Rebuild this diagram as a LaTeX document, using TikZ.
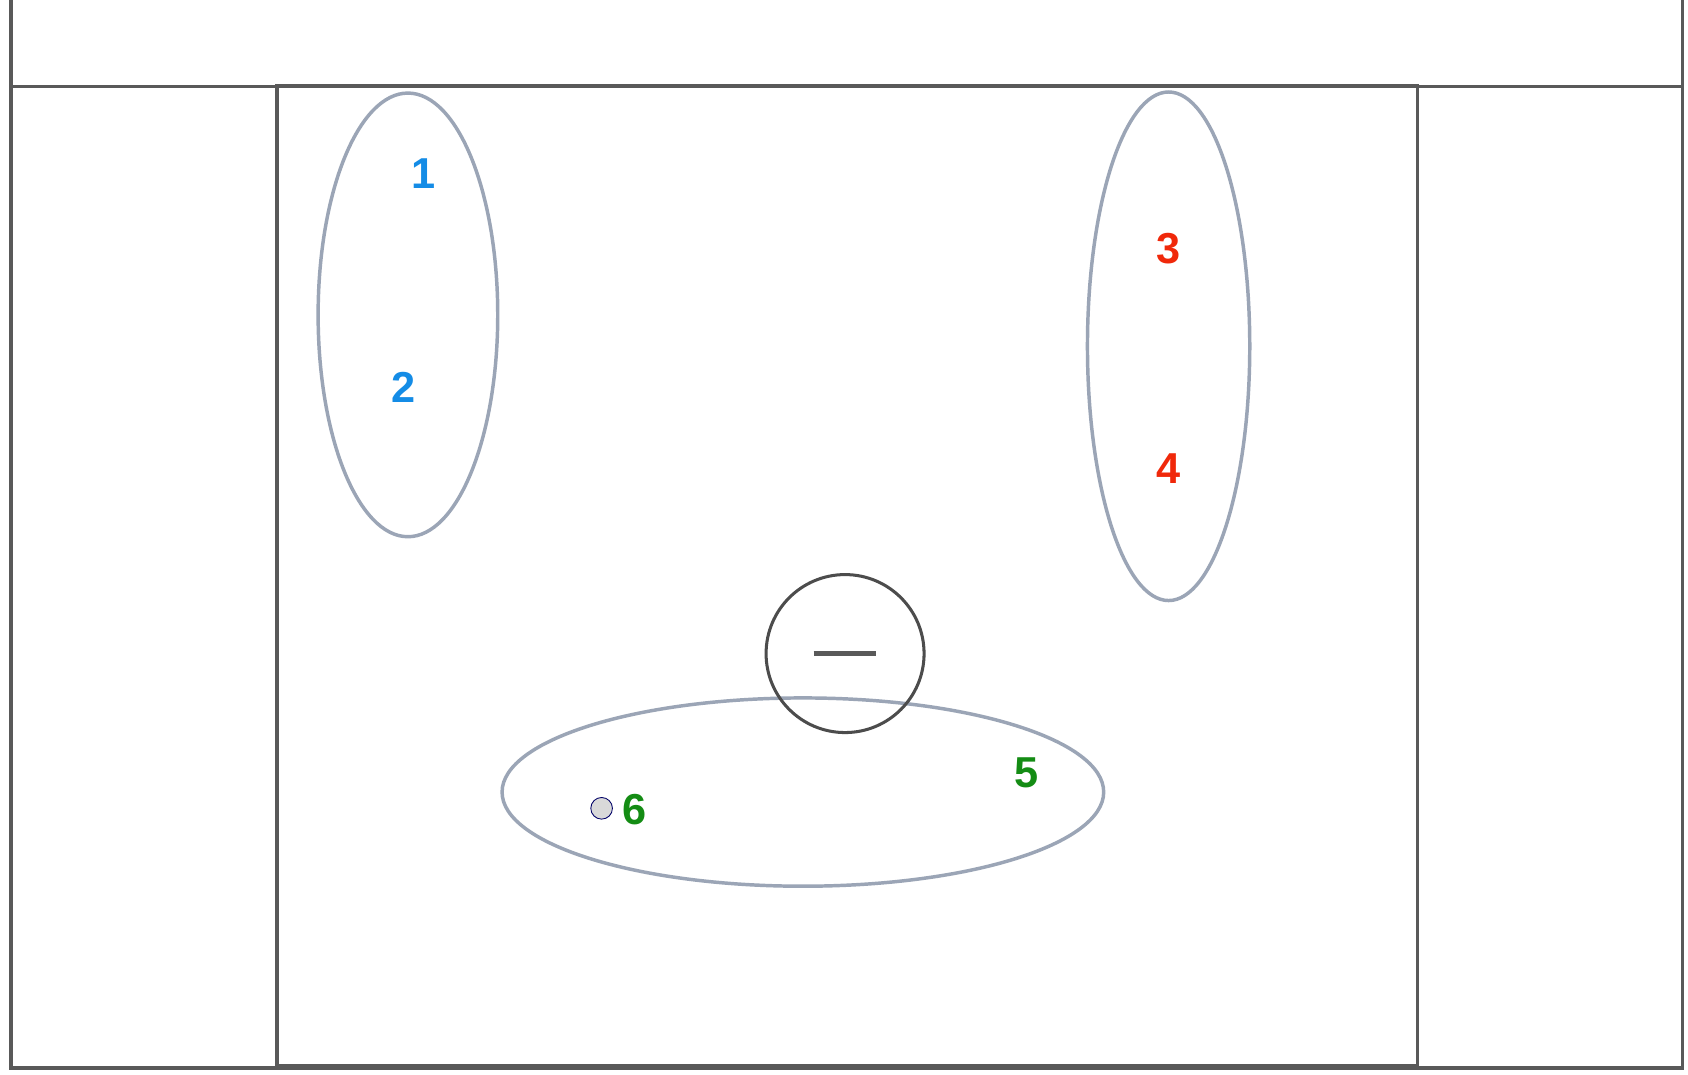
\documentclass[tikz,border=0pt]{standalone}
\usepackage{fontspec}
\setmainfont{Liberation Sans}
\definecolor{zonec}{RGB}{155,165,182}
\begin{document}
\begin{tikzpicture}[x=0.5pt,y=-0.5pt,
  court/.style={draw=black!65,line width=1.6pt},
  zone/.style={draw=zonec,line width=1.6pt},
  num/.style={font=\bfseries\fontsize{20}{20}\selectfont,inner sep=0pt}]
\useasboundingbox (0,0) rectangle (1560,993);
\fill[white] (0,0) rectangle (1560,993);
\draw[court] (10,0) -- (10,987) -- (1555,987) -- (1555,0);
\draw[court] (10,80) -- (1555,80);
\draw[court] (256,79) rectangle (1310,985);
\draw[zone] (377,291) ellipse [x radius=83, y radius=205];
\draw[zone] (1080,320) ellipse [x radius=75, y radius=235];
\draw[zone] (742,732) ellipse [x radius=278, y radius=87];
\node[circle,draw=black!70,line width=1.4pt,minimum size=73pt,inner sep=0pt] (goal) at (781,604) {};
\draw[black!65,line width=2.5pt] (752,604) -- (810,604);
\node[circle,fill=gray!30,draw=blue!40!black,line width=0.4pt,minimum size=10pt,inner sep=0pt] (ball) at (556,747) {};
\node[num,text={rgb,255:red,20;green,140;blue,230}] (n1) at (391,160) {1};
\node[num,text={rgb,255:red,20;green,140;blue,230}] (n2) at (373,358) {2};
\node[num,text={rgb,255:red,240;green,40;blue,10}] (n3) at (1080,230) {3};
\node[num,text={rgb,255:red,240;green,40;blue,10}] (n4) at (1080,433) {4};
\node[num,text={rgb,255:red,20;green,140;blue,20}] (n5) at (949,714) {5};
\node[num,text={rgb,255:red,20;green,140;blue,20}] (n6) at (586,748) {6};
\end{tikzpicture}
\end{document}
